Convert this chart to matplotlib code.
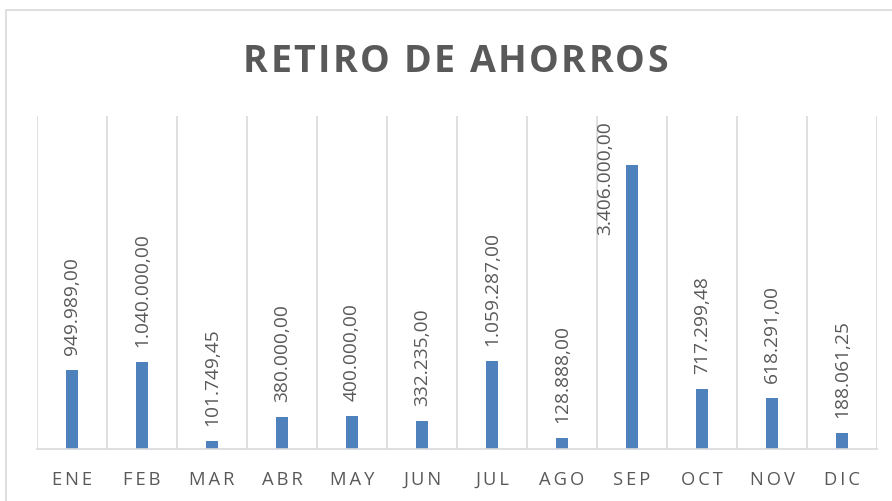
import matplotlib.pyplot as plt
from matplotlib.patches import Rectangle

meses = ['ENE', 'FEB', 'MAR', 'ABR', 'MAY', 'JUN', 'JUL', 'AGO', 'SEP', 'OCT', 'NOV', 'DIC']
retiros = [949989.00, 1040000.00, 101749.45, 380000.00, 400000.00, 332235.00,
           1059287.00, 128888.00, 3406000.00, 717299.48, 618291.00, 188061.25]
etiquetas = ['949.989,00', '1.040.000,00', '101.749,45', '380.000,00', '400.000,00', '332.235,00',
             '1.059.287,00', '128.888,00', '3.406.000,00', '717.299,48', '618.291,00', '188.061,25']
titulo = 'RETIRO DE AHORROS'

gris = '#595959'
azul = '#4F81BD'
linea = '#D9D9D9'

plt.rcParams['font.family'] = ['Open Sans', 'DejaVu Sans']

W, H = 892, 502
fig = plt.figure(figsize=(W/100, H/100), dpi=100)
ax = fig.add_axes([37/W, 1-450/H, 840/W, 333/H])

x = range(len(meses))
ax.bar(x, retiros, width=0.18, color=azul, zorder=3)

# lineas verticales entre categorias
for i in range(len(meses) + 1):
    ax.axvline(i - 0.5, color=linea, linewidth=1.2, zorder=1)

for i, (v, t) in enumerate(zip(retiros, etiquetas)):
    if v > 3000000:
        # no cabe arriba, Excel la corre al costado
        ax.annotate(t, (i, v), xytext=(-19.4, -49.7), textcoords='offset points',
                    rotation=90, ha='center', va='bottom', fontsize=13.8, color=gris)
    else:
        ax.annotate(t, (i, v), xytext=(0, 11.5), textcoords='offset points',
                    rotation=90, ha='center', va='bottom', fontsize=13.8, color=gris)

ax.set_xlim(-0.5, 11.5)
ax.set_ylim(0, 4000000)
ax.set_yticks([])
ax.set_xticks(list(x))
ax.set_xticklabels(['\u2009'.join(m) for m in meses], fontsize=13.2, color=gris)
ax.tick_params(axis='x', length=0, pad=15)
for s in ['top', 'left', 'right']:
    ax.spines[s].set_visible(False)
ax.spines['bottom'].set_color(linea)
ax.spines['bottom'].set_linewidth(1.2)
ax.spines['bottom'].set_zorder(4)

# titulo con espaciado entre letras
r = fig.canvas.get_renderer()
kw = dict(fontsize=27, fontweight='bold', color=gris)

def ancho(s):
    t = fig.text(0, 0, s, **kw)
    w = t.get_window_extent(r).width
    t.remove()
    return w

ancho_total = 425
gap = (ancho_total - ancho(titulo)) / (len(titulo) - 1)
x0 = 455.5 - ancho_total / 2
for k, c in enumerate(titulo):
    if c == ' ':
        continue
    xk = x0 + ancho(titulo[:k+1]) + k * gap
    fig.text(xk / W, 1 - 71.5 / H, c, ha='right', va='baseline', **kw)

fig.patches.append(Rectangle((6/W, -0.1), 1.2, 1.1 - 11/H, transform=fig.transFigure,
                             fill=False, edgecolor=linea, linewidth=1.2))

fig.savefig('out.png', dpi=100)
